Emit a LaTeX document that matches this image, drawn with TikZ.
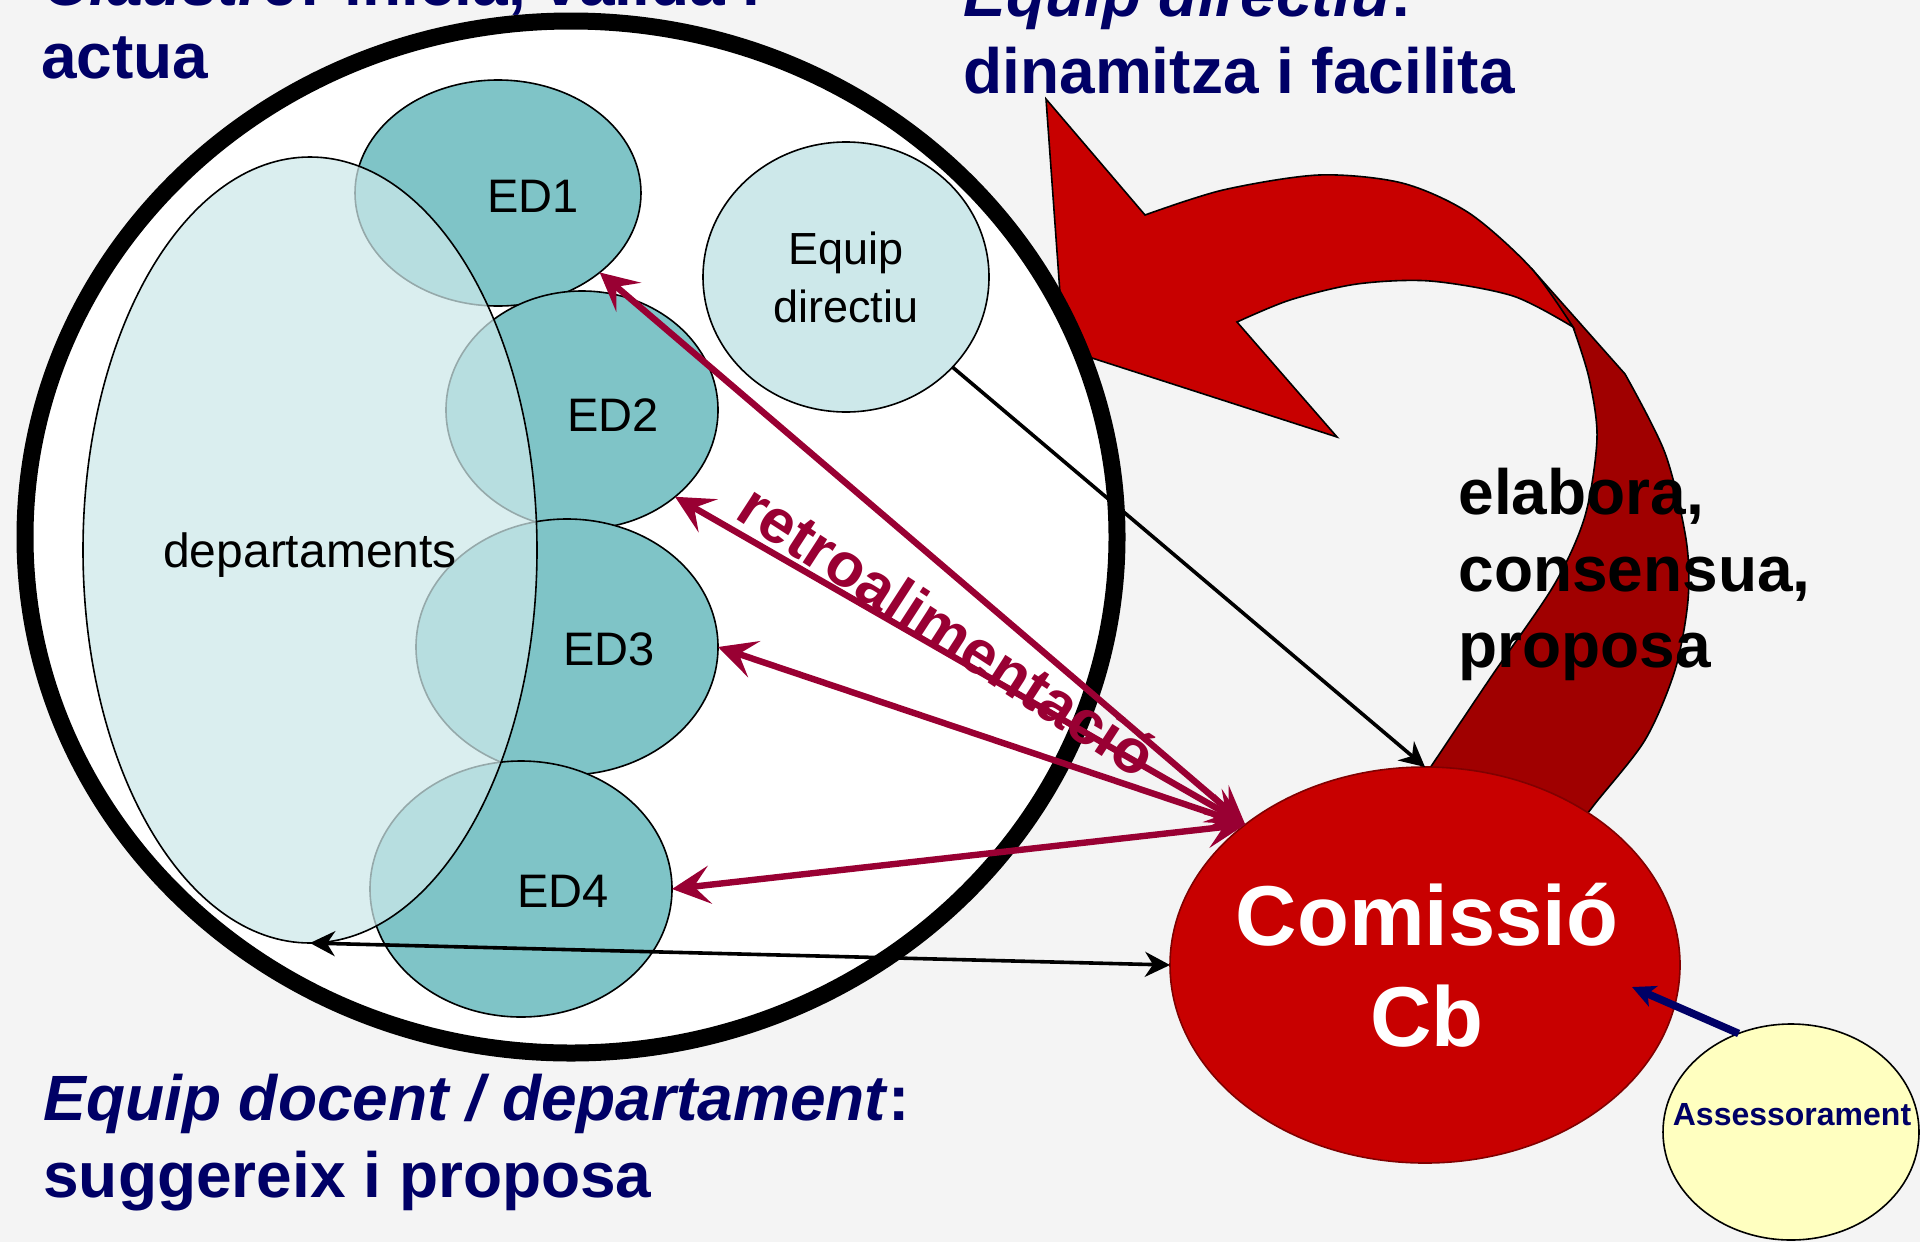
\documentclass[tikz,border=0pt]{standalone}
\usepackage{fontspec}
\setmainfont{Liberation Sans}
\usetikzlibrary{shapes.geometric,arrows.meta}
\definecolor{bg}{HTML}{F4F4F4}
\definecolor{navy}{HTML}{000066}
\definecolor{maroon}{HTML}{990033}
\definecolor{tealfill}{HTML}{7FC4C7}
\definecolor{paleblue}{HTML}{CDE8EA}
\definecolor{redA}{HTML}{C80000}
\definecolor{redB}{HTML}{A00000}
\definecolor{redline}{HTML}{800000}
\definecolor{paleyellow}{HTML}{FFFFC0}
\begin{document}
\begin{tikzpicture}[x=0.5pt,y=-0.5pt,
  ell/.style={ellipse, inner sep=0pt, outer sep=0pt},
  edell/.style={ell, fill=tealfill, draw=black, line width=0.8pt},
  edtext/.style={inner sep=0pt, font=\fontsize{23.5}{28}\selectfont},
  heading/.style={inner sep=0pt, anchor=base west, text=navy, font=\bfseries\fontsize{32}{38}\selectfont},
  maroonarrow/.style={draw=maroon, line width=3.2pt, {Stealth[length=19pt,width=19pt,inset=8pt]}-{Stealth[length=19pt,width=19pt,inset=8pt]}},
  blackarrow/.style={draw=black, line width=1.8pt, -{Stealth[length=12.5pt,width=12.5pt,inset=4pt]}},
  blackdbl/.style={draw=black, line width=1.8pt, {Stealth[length=12.5pt,width=12.5pt,inset=4pt]}-{Stealth[length=12.5pt,width=12.5pt,inset=4pt]}},
  outl/.style={draw=black, line width=0.8pt},
]
\useasboundingbox (0,0) rectangle (1920,1242);
\clip (0,0) rectangle (1920,1242);
\fill[bg] (0,0) rectangle (1920,1242);

% curved red arrow: back (dark) band
\filldraw[fill=redB, outl] (1531,268) -- plot[smooth] coordinates {(1625,374) (1665,453) (1686,539) (1688,600) (1675,670) (1645,740) (1594,805) (1560,850)} -- (1400,800) -- plot[smooth] coordinates {(1430,768) (1491,677) (1554,585) (1585,516) (1597,438) (1589,378) (1573,327)} -- cycle;
% front (light) part with head
\filldraw[fill=redA, outl] (1046,99) -- (1145,215) -- plot[smooth] coordinates {(1145,215) (1223,190) (1319,175) (1402,183) (1469,213) (1531,268) (1573,327)} -- plot[smooth] coordinates {(1573,327) (1513,296) (1430,281) (1357,284) (1290,300) (1237,322)} -- (1337,437) -- (1064,349) -- cycle;

% big circle (claustre)
\node[ell, draw=black, fill=white, line width=8.5pt, minimum width=546pt, minimum height=516pt] (clau) at (571,537) {};

% equip directiu
\node[ell, draw=black, fill=paleblue, line width=0.8pt, minimum width=143pt, minimum height=135pt, align=center, font=\fontsize{22.5}{29}\selectfont] (eqdir) at (846,277) {Equip\\directiu};

% ED ellipses
\node[edell, minimum width=143pt, minimum height=113pt] (ed1) at (498,193) {};
\node[edell, minimum width=136pt, minimum height=119pt] (ed2) at (582,410) {};
\node[edell, minimum width=151pt, minimum height=128pt] (ed3) at (567,647) {};
\node[edell, minimum width=151pt, minimum height=128pt] (ed4) at (521,889) {};
\node[edtext] (ed1t) at (533,196) {ED1};
\node[edtext] (ed2t) at (613,415) {ED2};
\node[edtext] (ed3t) at (609,649) {ED3};
\node[edtext] (ed4t) at (563,891) {ED4};

% departaments (translucent, on top of EDs)
\node[ell, draw=black, line width=0.8pt, fill=paleblue, fill opacity=0.73, text opacity=1, minimum width=227pt, minimum height=393pt, font=\fontsize{24}{28}\selectfont] (dep) at (310,550) {\raisebox{-2.5pt}[\height][\depth]{departaments}};

% Comissio
\node[ell, fill=redA, draw=redline, line width=0.8pt, minimum width=255pt, minimum height=198pt] (com) at (1425,965) {};
\node[text=white, font=\bfseries\fontsize{42.5}{50.5}\selectfont, align=center, inner sep=0pt] (comt) at (1427,965) {Comissió\\Cb};

% Assessorament
\node[ell, fill=paleyellow, draw=black, line width=0.8pt, minimum width=128pt, minimum height=108pt] (ass) at (1791,1132) {};
\node[text=navy, font=\bfseries\fontsize{16}{19}\selectfont, inner sep=0pt] (asst) at (1792,1115) {Assessorament};

% connectors
\draw[blackarrow] (eqdir) -- (com.north);
\draw[blackdbl] (dep.south) -- (com.west);
\draw[maroonarrow] (com.142) -- (ed1.-38);
\draw[maroonarrow] (com.142) -- (ed2.-43);
\draw[maroonarrow] (com.142) -- (ed3.east);
\draw[maroonarrow] (com.142) -- (ed4.east);
\coordinate (navytip) at (1632,987);
\draw[navy, line width=3.8pt, -{Stealth[length=11.5pt,width=11pt,inset=3pt]}] (ass.118) -- (navytip);

% texts
\node[heading] (h1a) at (43,5) {\textit{Claustre}: inicia, valida i};
\node[heading] (h1b) at (41,78) {actua};
\node[heading] (h2a) at (963,17) {\textit{Equip directiu}:};
\node[heading] (h2b) at (963,93) {dinamitza i facilita};
\node[heading] (h3a) at (43,1120) {\textit{Equip docent / departament}:};
\node[heading] (h3b) at (43,1197) {suggereix i proposa};
\node[heading, text=black] (h4a) at (1458,514) {elabora,};
\node[heading, text=black] (h4b) at (1458,591) {consensua,};
\node[heading, text=black] (h4c) at (1458,667) {proposa};
\node[text=maroon, font=\bfseries\fontsize{31}{36}\selectfont, rotate=-33, anchor=base west, inner sep=0pt] (retro) at (733,517) {retroalimentació};
\end{tikzpicture}
\end{document}
